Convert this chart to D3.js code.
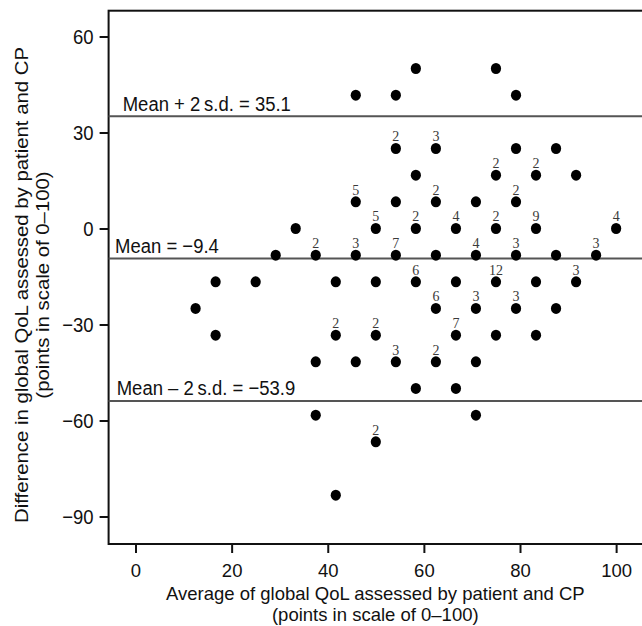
<!DOCTYPE html>
<html>
<head>
<meta charset="utf-8">
<script src="https://cdn.jsdelivr.net/npm/d3@7/dist/d3.min.js"></script>
<style>
  html, body { margin: 0; padding: 0; background: #fff; }
  svg { display: block; }
  .sans { font-family: "Liberation Sans", Arial, Helvetica, sans-serif; }
</style>
</head>
<body>
<svg id="chart" width="642" height="626"></svg>
<script>
// Bland–Altman data: average of patient and CP global QoL (x),
// their difference (y) and the number of patients sharing the point (n).
const avgQoL = [
  58.33, 75.00,
  45.83, 54.17, 79.17,
  54.17, 62.50, 79.17, 87.50,
  58.33, 75.00, 83.33, 91.67,
  45.83, 54.17, 62.50, 70.83, 79.17,
  33.33, 50.00, 58.33, 66.67, 75.00, 83.33, 100.00,
  29.17, 37.50, 45.83, 54.17, 62.50, 70.83, 79.17, 87.50, 95.83,
  16.67, 25.00, 41.67, 50.00, 58.33, 66.67, 75.00, 83.33, 91.67,
  12.50, 62.50, 70.83, 79.17, 87.50,
  16.67, 41.67, 50.00, 66.67, 75.00, 83.33,
  37.50, 45.83, 54.17, 62.50, 70.83,
  58.33, 66.67,
  37.50, 70.83,
  50.00,
  41.67
];
const diffQoL = [
  50.00, 50.00,
  41.67, 41.67, 41.67,
  25.00, 25.00, 25.00, 25.00,
  16.67, 16.67, 16.67, 16.67,
  8.33, 8.33, 8.33, 8.33, 8.33,
  0, 0, 0, 0, 0, 0, 0,
  -8.33, -8.33, -8.33, -8.33, -8.33, -8.33, -8.33, -8.33, -8.33,
  -16.67, -16.67, -16.67, -16.67, -16.67, -16.67, -16.67, -16.67, -16.67,
  -25.00, -25.00, -25.00, -25.00, -25.00,
  -33.33, -33.33, -33.33, -33.33, -33.33, -33.33,
  -41.67, -41.67, -41.67, -41.67, -41.67,
  -50.00, -50.00,
  -58.33, -58.33,
  -66.67,
  -83.33
];
const nPatients = [
  1, 1,
  1, 1, 1,
  2, 3, 1, 1,
  1, 2, 2, 1,
  5, 1, 2, 1, 2,
  1, 5, 2, 4, 2, 9, 4,
  1, 2, 3, 7, 1, 4, 3, 1, 3,
  1, 1, 1, 1, 6, 1, 12, 1, 3,
  1, 6, 3, 3, 1,
  1, 2, 2, 7, 1, 1,
  1, 1, 3, 2, 1,
  1, 1,
  1, 1,
  2,
  1
];

// Reference lines: mean difference and limits of agreement
const refValues = [35.1, -9.4, -53.9];
const refLabels = ["Mean + 2\u2009s.d. = 35.1", "Mean = \u22129.4", "Mean \u2013 2\u2009s.d. = \u221253.9"];

const xTicks = [0, 20, 40, 60, 80, 100];
const yTicks = [60, 30, 0, -30, -60, -90];

const xTitle = ["Average of global QoL assessed by patient and CP", "(points in scale of 0\u2013100)"];
const yTitle = ["Difference in global QoL assessed by patient and CP", "(points in scale of 0\u2013100)"];

// ---- layout ----
const plot = { left: 108.6, right: 644, top: 10.7, bottom: 544 };
const font = 18.5;
const stretch = 1.1;   // glyphs are drawn slightly taller than wide

const svg = d3.select("#chart");

const x = d3.scaleLinear().domain([-5.6, 105.8]).range([plot.left, plot.right]);
const y = d3.scaleLinear().domain([-98.6, 68.06]).range([plot.bottom, plot.top]);

const points = avgQoL.map((v, i) => ({ x: v, y: diffQoL[i], n: nPatients[i] }));

// place a text element at (px, py), optionally stretched vertically
function placeText(sel, px, py, rot, sy) {
  const s = sy === undefined ? stretch : sy;
  sel.attr("transform", (d, i) => {
    const X = typeof px === "function" ? px(d, i) : px;
    const Y = typeof py === "function" ? py(d, i) : py;
    return `translate(${X},${Y}) scale(1,${s})` + (rot ? ` rotate(${rot})` : "");
  });
}

// Axes (ticks and labels only; the frame is drawn separately)
const gx = svg.append("g")
  .attr("class", "sans")
  .attr("transform", `translate(0,${plot.bottom})`)
  .call(d3.axisBottom(x).tickValues(xTicks).tickSize(9).tickPadding(11).tickFormat(d3.format("d")));
const gy = svg.append("g")
  .attr("class", "sans")
  .attr("transform", `translate(${plot.left},0)`)
  .call(d3.axisLeft(y).tickValues(yTicks).tickSize(9).tickPadding(6).tickFormat(d3.format("d")));

[gx, gy].forEach(g => {
  g.select(".domain").remove();
  g.selectAll(".tick line").attr("stroke", "#111").attr("stroke-width", 2);
  g.selectAll(".tick text").attr("fill", "#111").style("font-size", font + "px")
    .style("font-family", '"Liberation Sans", Arial, sans-serif');
});
gy.selectAll(".tick text").attr("dy", null).attr("x", null)
  .attr("transform", `translate(${-(9 + 6)},${0.36 * font * stretch}) scale(1,${stretch})`);

// Frame (right side runs past the page edge)
svg.append("rect")
  .attr("x", plot.left).attr("y", plot.top)
  .attr("width", plot.right - plot.left + 10).attr("height", plot.bottom - plot.top)
  .attr("fill", "none").attr("stroke", "#111").attr("stroke-width", 2);

// Reference lines with their labels
const refLabelX = [122.7, 115, 116.7];
refValues.forEach((v, i) => {
  svg.append("line")
    .attr("x1", plot.left).attr("x2", plot.right)
    .attr("y1", y(v)).attr("y2", y(v))
    .attr("stroke", "#555").attr("stroke-width", 2);
  svg.append("text")
    .attr("class", "sans")
    .attr("fill", "#111")
    .style("font-size", font + "px")
    .text(refLabels[i])
    .call(placeText, refLabelX[i], y(v) - 5.5);
});

// Points
svg.append("g").selectAll("ellipse")
  .data(points).join("ellipse")
  .attr("cx", d => x(d.x)).attr("cy", d => y(d.y))
  .attr("rx", 5.1).attr("ry", 5.5).attr("fill", "#000");

// Counts for coincident observations
svg.append("g").selectAll("text")
  .data(points.filter(d => d.n > 1)).join("text")
  .attr("text-anchor", "middle")
  .attr("fill", "#3a3a3a")
  .style("font-family", '"Liberation Serif", "Times New Roman", serif')
  .style("font-size", "14px")
  .text(d => d.n)
  .call(placeText, d => x(d.x), d => y(d.y) - 7);

// Axis titles
const xc = (plot.left + 642) / 2;
svg.append("g").attr("class", "sans").selectAll("text")
  .data(xTitle).join("text")
  .attr("text-anchor", "middle").attr("fill", "#111")
  .style("font-size", font + "px")
  .text(d => d)
  .call(placeText, xc, (d, i) => 600 + i * 21, null, 1);

const yc = 285;
svg.append("g").attr("class", "sans").selectAll("text")
  .data(yTitle).join("text")
  .attr("text-anchor", "middle").attr("fill", "#111")
  .style("font-size", font + "px")
  .text(d => d)
  .call(placeText, (d, i) => 28 + i * 20.5, yc, -90);
</script>
</body>
</html>
